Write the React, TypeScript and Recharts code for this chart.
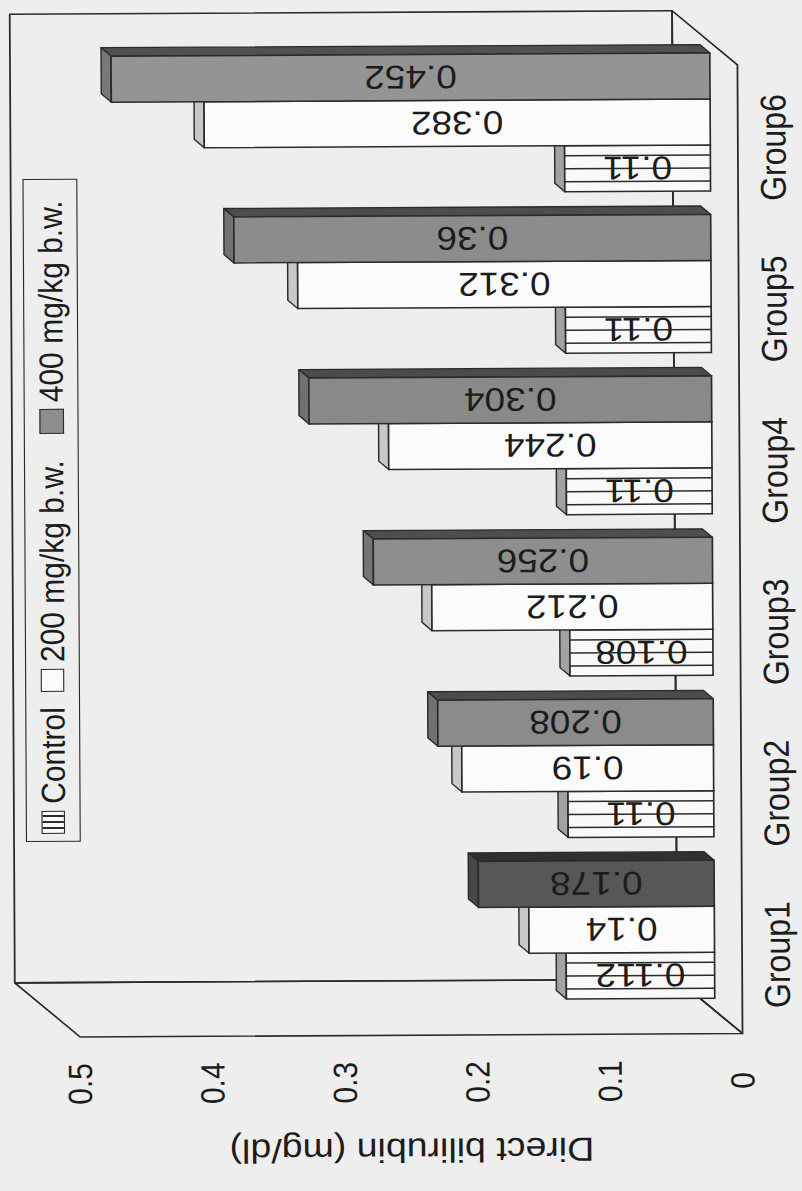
import React from 'react';
import { BarChart, Bar, XAxis, YAxis, Legend, ReferenceArea, LabelList, Cell, Label } from 'recharts';

// ---------- data ----------
const groups = ['Group1', 'Group2', 'Group3', 'Group4', 'Group5', 'Group6'];
const controlValues = [0.112, 0.11, 0.108, 0.11, 0.11, 0.11];
const dose200Values = [0.14, 0.19, 0.212, 0.244, 0.312, 0.382];
const dose400Values = [0.178, 0.208, 0.256, 0.304, 0.36, 0.452];
const valueTicks = [0, 0.1, 0.2, 0.3, 0.4, 0.5];
const seriesNames = ['Control', '200 mg/kg b.w.', '400 mg/kg b.w.'];
const dose400Shades = ['#575757', '#8b8b8b', '#8e8e8e', '#898989', '#8c8c8c', '#949494'];
const yTitle = 'Direct bilirubin (mg/dl)';

const chartData = groups.map((group, i) => ({
  group,
  control: controlValues[i],
  dose200: dose200Values[i],
  dose400: dose400Values[i],
}));

// ---------- layout / style ----------
const S = 1.12; // scan stretch across the page
const W = 1191;
const H = 716;
const FONT = "'Liberation Sans', Arial, Helvetica, sans-serif";
const INK = '#1c1c1c';
const LINE = '#2b2b2b';
const BG = '#eeeeee';

const MARGIN = { top: 44.9, right: 43.2, bottom: 39.7, left: 0 };
const Y_AXIS_WIDTH = 179.2;
const X_AXIS_HEIGHT = 40;
const BAR_SIZE = 46;

const DEPTH_X = 8.5;
const DEPTH_Y = 8.9;
const FRONT_DX = -23.5;
const FRONT_DY = 24.6;
const BACK_DX = 31;
const BACK_DY = -33.5;

const TICK_LABEL_X = 108.7;
const TITLE_X = 41;
const GROUP_LABEL_BASELINE = 703.5;
const GROUP_LABEL_DX = -25.5;

function darken(hex: string, k: number) {
  const h = hex.replace('#', '');
  const n = parseInt(h, 16);
  const r = Math.round(((n >> 16) & 255) * k);
  const g = Math.round(((n >> 8) & 255) * k);
  const b = Math.round((n & 255) * k);
  return `rgb(${r},${g},${b})`;
}

type Faces = { front: string; top: string; side: string; stripes?: boolean };

function makeShape(faces: (fill: string) => Faces) {
  return (props: any) => {
    const { x, y, width, height, fill } = props;
    if (!(height > 0) || !(width > 0)) return <g />;
    const f = faces(fill);
    const dx = DEPTH_X;
    const dy = DEPTH_Y;
    const r = x + width;
    const b = y + height;
    const lines: any[] = [];
    if (f.stripes) {
      for (let sx = x + 10; sx < r - 4; sx += 13) {
        lines.push(<line key={sx} x1={sx} y1={y} x2={sx} y2={b} stroke={LINE} strokeWidth={1.5} />);
      }
    }
    return (
      <g>
        <polygon
          points={`${r},${y} ${r + dx},${y - dy} ${r + dx},${b - dy} ${r},${b}`}
          fill={f.side}
          stroke={LINE}
          strokeWidth={1.3}
          strokeLinejoin="round"
        />
        <polygon
          points={`${x},${y} ${x + dx},${y - dy} ${r + dx},${y - dy} ${r},${y}`}
          fill={f.top}
          stroke={LINE}
          strokeWidth={1.3}
          strokeLinejoin="round"
        />
        <rect x={x} y={y} width={width} height={height} fill={f.front} stroke={LINE} strokeWidth={1.5} />
        {lines}
      </g>
    );
  };
}

const controlShape = makeShape(() => ({ front: '#f9f9f9', top: '#a2a2a2', side: '#8a8a8a', stripes: true }));
const dose200Shape = makeShape(() => ({ front: '#fbfbfb', top: '#c8c8c8', side: '#b0b0b0' }));
const dose400Shape = makeShape((fill) => ({ front: fill, top: darken(fill, 0.82), side: darken(fill, 0.55) }));

const BoxShape = (props: any) => {
  const { x, y, width, height } = props;
  const L = x;
  const R = x + width;
  const T = y;
  const B = y + height;
  const bL = L + BACK_DX, bR = R + BACK_DX, bT = T + BACK_DY, bB = B + BACK_DY;
  const fL = L + FRONT_DX, fR = R + FRONT_DX, fT = T + FRONT_DY, fB = B + FRONT_DY;
  return (
    <g fill="none" stroke={LINE} strokeWidth={1.6} strokeLinejoin="round">
      <rect x={bL} y={bT} width={bR - bL} height={bB - bT} />
      <polygon points={`${bL},${bT} ${bL},${bB} ${fL},${fB} ${fL},${fT}`} />
      <polygon points={`${bL},${bB} ${bR},${bB} ${fR},${fB} ${fL},${fB}`} />
    </g>
  );
};

const ValueTick = (props: any) => {
  const { y, payload } = props;
  return (
    <text
      x={TICK_LABEL_X}
      y={y + FRONT_DY}
      textAnchor="middle"
      dominantBaseline="central"
      fontSize={30}
      fontFamily={FONT}
      fill={INK}
      stroke="none"
    >
      {String(payload.value)}
    </text>
  );
};

const GroupTick = (props: any) => {
  const { x, payload } = props;
  return (
    <text
      x={x + GROUP_LABEL_DX}
      y={GROUP_LABEL_BASELINE}
      textAnchor="middle"
      fontSize={32}
      fontFamily={FONT}
      fill={INK}
      stroke="none"
    >
      {payload.value}
    </text>
  );
};

const TitleContent = (props: any) => {
  const vb = props.viewBox || {};
  const cy = (vb.y ?? 0) + (vb.height ?? 0) / 2 + FRONT_DY;
  return (
    <text
      x={TITLE_X}
      y={cy}
      transform={`rotate(-90, ${TITLE_X}, ${cy})`}
      textAnchor="middle"
      dominantBaseline="central"
      fontSize={33.5}
      fontFamily={FONT}
      fill={INK}
      stroke="none"
    >
      {yTitle}
    </text>
  );
};

const BarValueLabel = (props: any) => {
  const { x, y, width, height, value } = props;
  if (value == null) return null;
  const cx = x + width / 2;
  const cy = y + height / 2;
  return (
    <text
      x={cx}
      y={cy}
      transform={`rotate(-90, ${cx}, ${cy})`}
      textAnchor="middle"
      dominantBaseline="central"
      fontSize={33}
      fontFamily={FONT}
      fontWeight="normal"
      fill={INK}
      stroke="none"
    >
      {String(value)}
    </text>
  );
};

const iconBase: React.CSSProperties = {
  boxSizing: 'border-box',
  border: `1.5px solid ${LINE}`,
  flex: '0 0 auto',
};

const legendIcons = [
  <div
    style={{
      ...iconBase,
      width: 23,
      height: 21,
      background: `repeating-linear-gradient(90deg, #f9f9f9 0px, #f9f9f9 4px, ${LINE} 4px, ${LINE} 6px)`,
    }}
  />,
  <div style={{ ...iconBase, width: 23, height: 21, background: '#fbfbfb' }} />,
  <div style={{ ...iconBase, width: 25, height: 22, background: '#8e8e8e' }} />,
];
const legendGaps = [7, 15, 26];

const LegendBox = (props: any) => {
  const payload = props.payload || [];
  const ordered = seriesNames
    .map((name) => payload.find((p: any) => p.value === name))
    .filter(Boolean);
  return (
    <div
      style={{
        boxSizing: 'border-box',
        width: '100%',
        height: '100%',
        border: `1.6px solid ${LINE}`,
        display: 'flex',
        alignItems: 'center',
        fontFamily: FONT,
        fontSize: 30,
        color: INK,
        whiteSpace: 'nowrap',
        lineHeight: 1,
      }}
    >
      {ordered.map((entry: any) => {
        const i = seriesNames.indexOf(entry.value);
        return (
          <div key={entry.value} style={{ display: 'flex', alignItems: 'center', marginLeft: legendGaps[i] }}>
            {legendIcons[i]}
            <span style={{ marginLeft: 7 }}>{entry.value}</span>
          </div>
        );
      })}
    </div>
  );
};

export default function App() {
  return (
    <div
      style={{
        position: 'absolute',
        left: 0,
        top: 0,
        width: 802,
        height: 1191,
        overflow: 'hidden',
        background: BG,
      }}
    >
      <div
        style={{
          position: 'absolute',
          left: 0,
          top: 0,
          width: 802,
          height: 1191,
          transformOrigin: '401px 595.5px',
          transform: 'rotate(-0.3deg)',
        }}
      >
        <div
          style={{
            position: 'absolute',
            left: 0,
            top: 0,
            width: W,
            height: H,
            transformOrigin: '0 0',
            transform: `translate(0px, 1191px) rotate(-90deg) scale(1, ${S})`,
          }}
        >
          <BarChart width={W} height={H} data={chartData} margin={MARGIN} barGap={0} barSize={BAR_SIZE}>
            <ReferenceArea y1={0} y2={0.5} shape={BoxShape} ifOverflow="visible" />
            <XAxis
              dataKey="group"
              axisLine={false}
              tickLine={false}
              height={X_AXIS_HEIGHT}
              interval={0}
              tick={<GroupTick />}
            />
            <YAxis
              type="number"
              domain={[0, 0.5]}
              ticks={valueTicks}
              width={Y_AXIS_WIDTH}
              axisLine={false}
              tickLine={false}
              tick={<ValueTick />}
            >
              <Label content={<TitleContent />} />
            </YAxis>
            <Legend
              layout="horizontal"
              verticalAlign="middle"
              align="center"
              itemSorter={null as any}
              wrapperStyle={{ left: 351, top: 22.3, width: 663, height: 49.1, margin: 0 }}
              content={<LegendBox />}
            />
            <Bar dataKey="control" name={seriesNames[0]} fill="#f9f9f9" shape={controlShape} isAnimationActive={false}>
              <LabelList dataKey="control" content={<BarValueLabel />} />
            </Bar>
            <Bar dataKey="dose200" name={seriesNames[1]} fill="#fbfbfb" shape={dose200Shape} isAnimationActive={false}>
              <LabelList dataKey="dose200" content={<BarValueLabel />} />
            </Bar>
            <Bar dataKey="dose400" name={seriesNames[2]} fill="#8e8e8e" shape={dose400Shape} isAnimationActive={false}>
              {chartData.map((d, i) => (
                <Cell key={d.group} fill={dose400Shades[i]} />
              ))}
              <LabelList dataKey="dose400" content={<BarValueLabel />} />
            </Bar>
          </BarChart>
        </div>
      </div>
    </div>
  );
}
